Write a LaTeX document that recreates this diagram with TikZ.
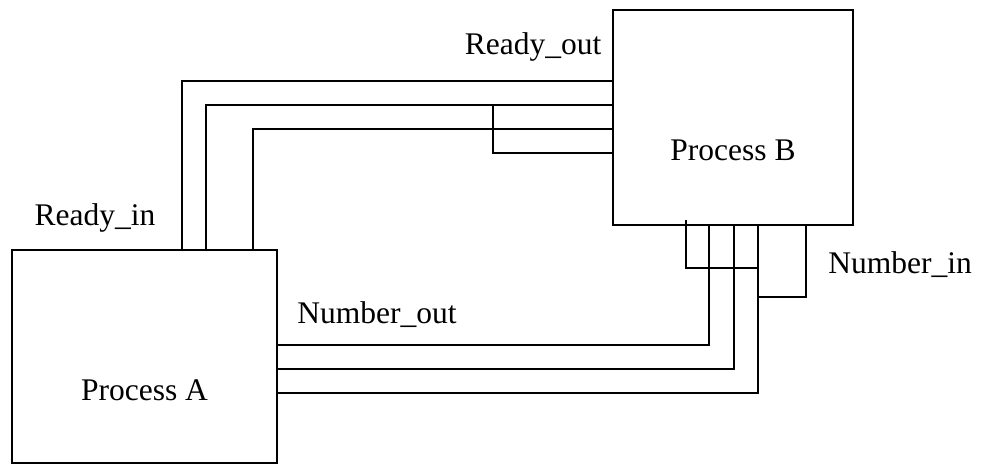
\documentclass[tikz,border=0pt]{standalone}
\usepackage{fontspec}
\setmainfont{Liberation Serif}
\usetikzlibrary{calc}

\begin{document}
\begin{tikzpicture}[x=0.5pt, y=-0.5pt,
    procbox/.style={rectangle, draw, line width=0.9pt, inner sep=0pt, outer sep=0pt},
    wire/.style={draw, line width=0.9pt},
    lbl/.style={anchor=base, inner sep=0pt, font=\fontsize{15.75}{18}\selectfont}]
    \useasboundingbox (0,0) rectangle (983,465);

    \node [procbox, minimum width=132.5pt, minimum height=106.5pt] (procA) at (144.5,356.5) {};
    \node [procbox, minimum width=120pt, minimum height=107.5pt] (procB) at (733,117.5) {};
    \node [lbl] (nameA) at ($(procA.center)+(0,43.5)$) {Process A};
    \node [lbl] (nameB) at ($(procB.center)+(0,42.5)$) {Process B};

    % ready lines, A top to B left
    \path [wire] (procA.north -| 182,0) |- (procB.west |- 0,81);
    \path [wire] (procA.north -| 206,0) |- (procB.west |- 0,105);
    \path [wire] (procA.north -| 253,0) |- (procB.west |- 0,129);
    \path [wire] (procB.west |- 0,153) -| (493,105);

    % number lines, A right to B bottom
    \path [wire] (procA.east |- 0,345) -| (procB.south -| 709,0);
    \path [wire] (procA.east |- 0,369) -| (procB.south -| 734,0);
    \path [wire] (procA.east |- 0,393) -| (procB.south -| 758,0);
    \path [wire] (686,220) |- (758,268);
    \path [wire] (procB.south -| 806,0) |- (758,297);

    \node [lbl] (rdyout) at (533,55) {Ready\_out};
    \node [lbl] (rdyin) at (95,225) {Ready\_in};
    \node [lbl] (numout) at (377,323) {Number\_out};
    \node [lbl] (numin) at (900,273) {Number\_in};
\end{tikzpicture}
\end{document}
